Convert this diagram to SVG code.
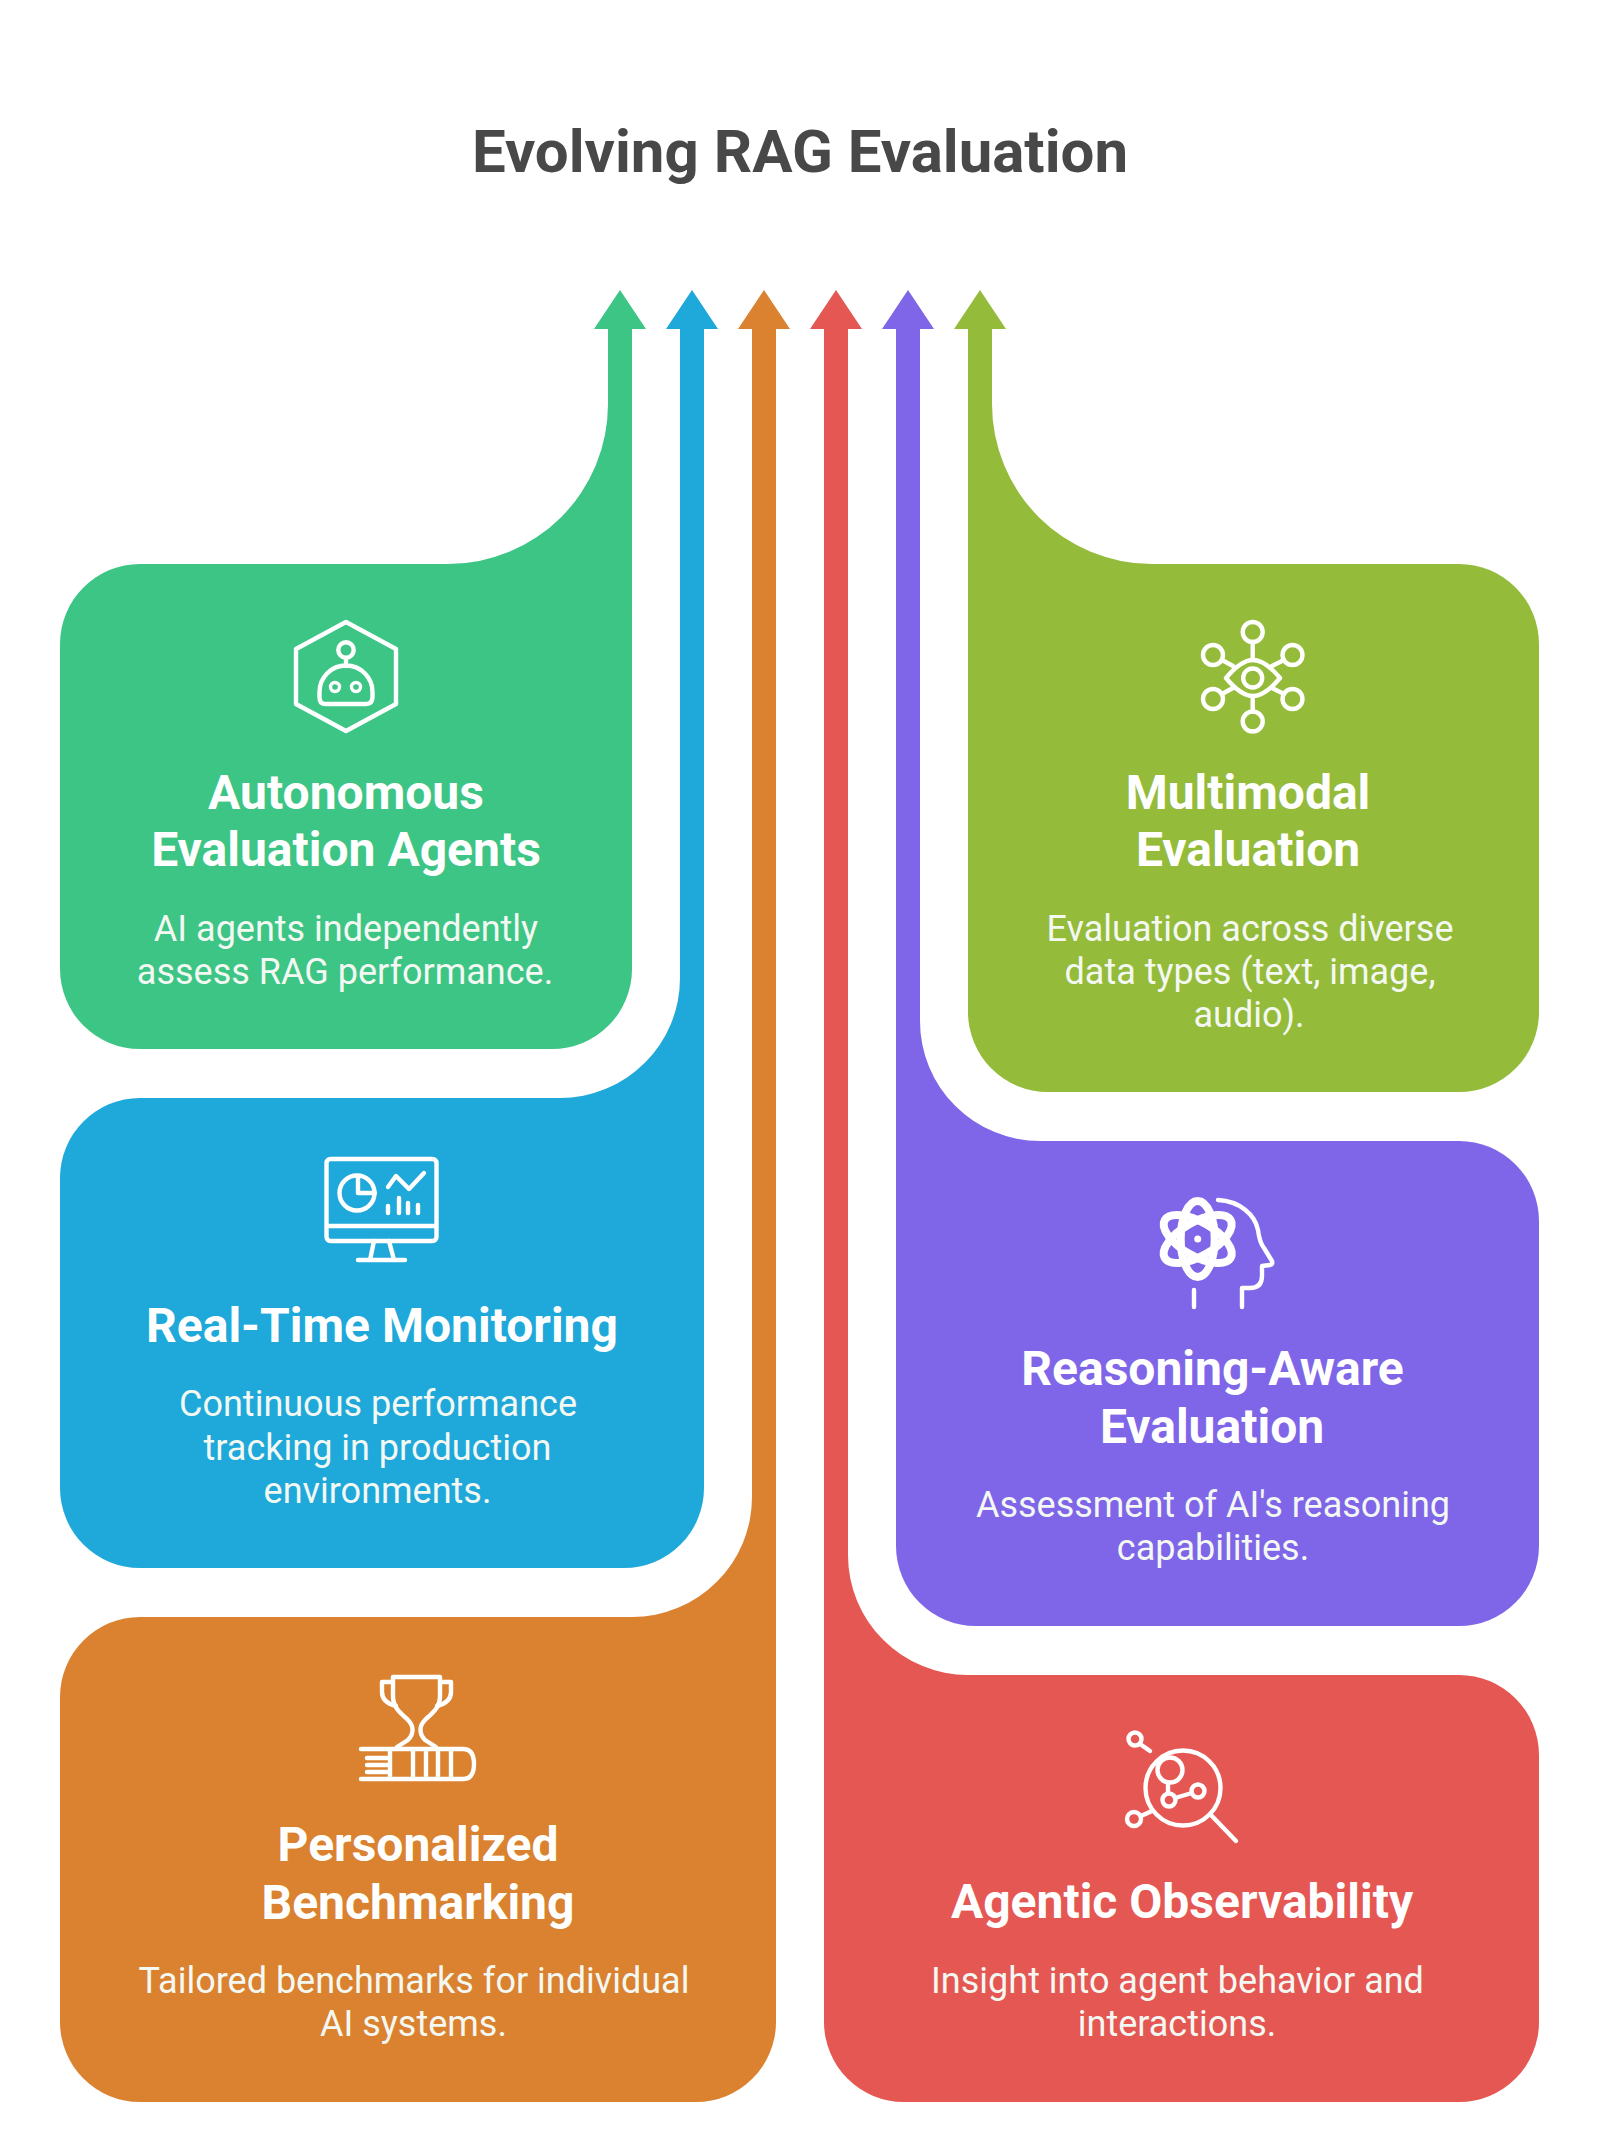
<svg xmlns="http://www.w3.org/2000/svg" width="1600" height="2132" viewBox="0 0 1600 2132">
<style>
text{font-family:Roboto,"Liberation Sans",sans-serif;text-anchor:middle;fill:#fff}
.main{font-size:60px;font-weight:700;fill:#484848}
.h{font-size:48px;font-weight:700}
.b{font-size:36px;font-weight:400;fill:#f4f8f2}
.i{fill:none;stroke:#fff;stroke-width:4.4;stroke-linecap:round;stroke-linejoin:round}
.g{fill:#3DC585}.bl{fill:#1FA8DA}.o{fill:#DA8230}.r{fill:#E55753}.p{fill:#7F66E8}.ol{fill:#94BB3A}
</style>
<rect width="1600" height="2132" fill="#fff"/>
<text class="main" x="800" y="172">Evolving RAG Evaluation</text>
<g id="connectors">
<path class="g" d="M620 290L646 329H632V660H448V564A160 160 0 0 0 608 404V329H594Z"/>
<path class="bl" d="M692 290L718 329H704V1180H560V1098A120 120 0 0 0 680 978V329H666Z"/>
<path class="o" d="M764 290L790 329H776V1720H632V1617A120 120 0 0 0 752 1497V329H738Z"/>
<path class="r" d="M836 290L862 329H848V1555A120 120 0 0 0 968 1675V1780H824V329H810Z"/>
<path class="p" d="M908 290L934 329H920V1021A120 120 0 0 0 1040 1141V1240H896V329H882Z"/>
<path class="ol" d="M980 290L1006 329H992V404A160 160 0 0 0 1152 564V660H968V329H954Z"/>
</g>
<g id="node-autonomous">
<rect class="g" x="60" y="564" width="572" height="485" rx="80"/>
<path class="i" d="M346 622L396 649V704L346 731L296 704V649Z"/>
<circle class="i" cx="346" cy="650" r="7.700"/><path class="i" d="M346 658V666M325 704H366Q372.500 704 372.500 697V692A26.500 26.500 0 0 0 319.500 692V697Q319.500 704 325 704Z"/>
<circle class="i" cx="335" cy="687" r="4.500" style="stroke-width:3.400"/><circle class="i" cx="356" cy="687" r="4.500" style="stroke-width:3.400"/>
<text class="h" x="346" y="809">Autonomous</text><text class="h" x="346" y="866">Evaluation Agents</text>
<text class="b" x="346" y="941">AI agents independently</text><text class="b" x="345" y="984">assess RAG performance.</text>
</g>
<g id="node-monitoring">
<rect class="bl" x="60" y="1098" width="644" height="470" rx="80"/>
<rect class="i" x="326.500" y="1159" width="110" height="82" rx="4"/>
<path class="i" d="M327 1226H436M374 1241L370 1260M389 1241L394 1260M358 1260H405"/>
<circle class="i" cx="357" cy="1193" r="17.500"/><path class="i" d="M358 1178V1193H375"/>
<path class="i" d="M388 1187L396 1176L409 1189L424 1173"/>
<path class="i" d="M388 1206V1213M399 1198V1213M408 1203V1213M418 1205V1213"/>
<text class="h" x="382" y="1342">Real-Time Monitoring</text>
<text class="b" x="378" y="1416">Continuous performance</text><text class="b" x="377.500" y="1460">tracking in production</text><text class="b" x="377.500" y="1503">environments.</text>
</g>
<g id="node-benchmarking">
<rect class="o" x="60" y="1617" width="716" height="485" rx="80"/>
<path class="i" d="M393 1677H440V1697C440 1708 431 1714 425 1720C419 1726 419 1734 425 1740L436 1747M393 1677V1697C393 1708 402 1714 408 1720C414 1726 414 1734 408 1740L397 1747"/>
<path class="i" d="M393 1682H382V1692C382 1700 388 1704 396 1706M440 1682H451V1692C451 1700 445 1704 437 1706"/>
<path class="i" d="M361 1749H463Q474 1749 474 1764Q474 1779 463 1779H361M367 1758H388M367 1765H388M367 1772H388M390 1749V1779M413 1749V1779M426 1749V1779M438 1749V1779M451 1749V1779"/>
<text class="h" x="418" y="1861">Personalized</text><text class="h" x="418" y="1919">Benchmarking</text>
<text class="b" x="414" y="1993">Tailored benchmarks for individual</text><text class="b" x="413.500" y="2036">AI systems.</text>
</g>
<g id="node-observability">
<rect class="r" x="824" y="1675" width="715" height="427" rx="80"/>
<circle class="i" cx="1135" cy="1739" r="6.500"/><path class="i" d="M1140 1744L1150 1751"/>
<circle class="i" cx="1183" cy="1788" r="37.500"/><path class="i" d="M1210 1814L1236 1841"/>
<circle class="i" cx="1170" cy="1770" r="12.500"/><circle class="i" cx="1169" cy="1800" r="6.500"/><circle class="i" cx="1198" cy="1791" r="6.500"/>
<path class="i" d="M1168 1783V1793M1175 1798L1192 1793"/>
<circle class="i" cx="1134" cy="1819" r="7"/><path class="i" d="M1141 1816L1152 1811"/>
<text class="h" x="1182" y="1918">Agentic Observability</text>
<text class="b" x="1177.500" y="1993">Insight into agent behavior and</text><text class="b" x="1177" y="2036">interactions.</text>
</g>
<g id="node-reasoning">
<rect class="p" x="896" y="1141" width="643" height="485" rx="80"/>
<g class="i" style="stroke-width:8"><ellipse cx="1197.700" cy="1239" rx="38" ry="17" transform="rotate(90 1197.700 1239)"/><ellipse cx="1197.700" cy="1239" rx="38" ry="17" transform="rotate(30 1197.700 1239)"/><ellipse cx="1197.700" cy="1239" rx="38" ry="17" transform="rotate(-30 1197.700 1239)"/></g>
<circle cx="1197.700" cy="1239" r="3.500" fill="#fff"/>
<path class="i" d="M1218 1200C1240 1201 1255 1215 1258 1230C1259 1238 1260 1243 1264 1248L1272 1261Q1273 1264 1270 1265L1262 1266V1276Q1262 1288 1250 1288H1242V1307M1194 1290V1307"/>
<text class="h" x="1212.500" y="1385">Reasoning-Aware</text><text class="h" x="1212" y="1443">Evaluation</text>
<text class="b" x="1213" y="1517">Assessment of AI's reasoning</text><text class="b" x="1213" y="1560">capabilities.</text>
</g>
<g id="node-multimodal">
<rect class="ol" x="968" y="564" width="571" height="528" rx="80"/>
<path class="i" d="M1226 678C1236 666 1244 660 1253 660C1262 660 1270 666 1280 678C1270 690 1262 696 1253 696C1244 696 1236 690 1226 678Z"/><circle class="i" cx="1252.700" cy="678" r="9.500"/>
<circle class="i" cx="1252.700" cy="632" r="10"/><circle class="i" cx="1213" cy="655" r="10"/><circle class="i" cx="1292.500" cy="655" r="10"/><circle class="i" cx="1213" cy="699" r="10"/><circle class="i" cx="1292.500" cy="699" r="10"/><circle class="i" cx="1252.700" cy="721.500" r="10"/>
<path class="i" d="M1252.700 642V660M1252.700 696V711.500M1222 660L1233 666M1284 660L1272 666M1222 694L1233 688M1284 694L1272 688"/>
<text class="h" x="1248" y="809">Multimodal</text><text class="h" x="1248" y="866">Evaluation</text>
<text class="b" x="1250" y="941">Evaluation across diverse</text><text class="b" x="1250" y="984">data types (text, image,</text><text class="b" x="1249" y="1027">audio).</text>
</g>
</svg>
